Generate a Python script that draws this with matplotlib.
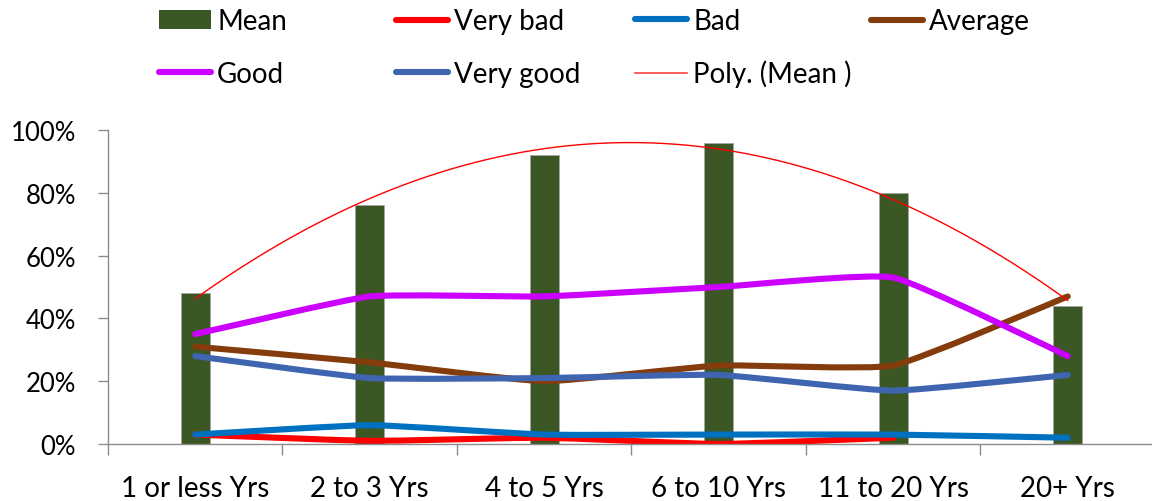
import numpy as np
import matplotlib
matplotlib.use("Agg")
import matplotlib.pyplot as plt
from matplotlib.path import Path
from matplotlib.patches import PathPatch, Patch
from matplotlib.lines import Line2D
from matplotlib.ticker import PercentFormatter

plt.rcParams['font.family'] = ['Lato', 'DejaVu Sans']

# ---- data ----
categories = ["1 or less Yrs", "2 to 3 Yrs", "4 to 5 Yrs", "6 to 10 Yrs", "11 to 20 Yrs", "20+ Yrs"]
mean = [48, 76, 92, 96, 80, 44]
very_bad = [3, 1, 2, 0, 2, np.nan]
bad = [3, 6, 3, 3, 3, 2]
average = [31, 26, 20, 25, 25, 47]
good = [35, 47, 47, 50, 53, 28]
very_good = [28, 21, 21, 22, 17, 22]

series = [
    ("Very bad", very_bad, "#FF0000"),
    ("Bad", bad, "#0070C0"),
    ("Average", average, "#843C0C"),
    ("Good", good, "#CC00FF"),
    ("Very good", very_good, "#3F65B0"),
]
bar_color = "#3A5724"
axis_gray = "#8C8C8C"

W, H = 1152, 502
fig = plt.figure(figsize=(W / 100, H / 100), dpi=100)
ax = fig.add_axes([108 / W, (H - 445) / H, 1047 / W, 314 / H])

x = np.arange(1, len(categories) + 1)


def smooth_path(xs, ys, k=0.07):
    """Cubic Bezier path through the points with gently rounded corners."""
    pts = np.array([(a, b) for a, b in zip(xs, ys) if not np.isnan(b)], dtype=float)
    n = len(pts)
    verts = [pts[0]]
    codes = [Path.MOVETO]
    for i in range(n - 1):
        p0 = pts[i - 1] if i > 0 else pts[i]
        p1 = pts[i]
        p2 = pts[i + 1]
        p3 = pts[i + 2] if i + 2 < n else pts[i + 1]
        c1 = p1 + (p2 - p0) * k
        c2 = p2 - (p3 - p1) * k
        verts += [c1, c2, p2]
        codes += [Path.CURVE4] * 3
    return Path(verts, codes)


# bars
ax.bar(x, np.array(mean) / 100, width=0.166, color=bar_color,
       edgecolor="#A6A6A6", linewidth=0.6, zorder=1)

# rating lines
handles = {}
for name, vals, col in series:
    v = np.array(vals, dtype=float) / 100
    patch = PathPatch(smooth_path(x, v), facecolor="none", edgecolor=col,
                      linewidth=4.4, capstyle="round", joinstyle="round", zorder=2)
    ax.add_patch(patch)
    handles[name] = Line2D([], [], color=col, linewidth=4.4, solid_capstyle="round")

# order-2 polynomial trendline of the mean
coef = np.polyfit(x, np.array(mean) / 100, 2)
xt = np.linspace(1, 6, 300)
ax.plot(xt, np.polyval(coef, xt), color="#FF0000", linewidth=1.0, zorder=3)
handles["Poly. (Mean )"] = Line2D([], [], color="#FF4040", linewidth=1.2)
handles["Mean"] = Patch(facecolor=bar_color, edgecolor="none")
handles[" "] = Line2D([], [], color="none")

# axes styling
ax.set_xlim(0.5, 6.5)
ax.set_ylim(0, 1.0)
ax.yaxis.set_major_formatter(PercentFormatter(1.0, decimals=0))
ax.set_yticks(np.arange(0, 1.01, 0.2))
for s in ("top", "right"):
    ax.spines[s].set_visible(False)
for s in ("left", "bottom"):
    ax.spines[s].set_color(axis_gray)
    ax.spines[s].set_linewidth(1.0)
ax.tick_params(axis="y", colors=axis_gray, length=7, width=1.0, pad=16,
               labelsize=18.5, labelcolor="black")
ax.set_xticks(np.arange(0.5, 6.6, 1.0))
ax.set_xticklabels([])
ax.tick_params(axis="x", which="major", colors=axis_gray, length=8, width=1.0)
ax.set_xticks(x, minor=True)
ax.set_xticklabels(categories, minor=True)
ax.tick_params(axis="x", which="minor", length=0, pad=22, labelsize=20,
               labelcolor="black")

# legend laid out in a fixed 4-column grid
leg_kw = dict(frameon=False, fontsize=20, handlelength=1.87, handletextpad=0.22,
              borderpad=0, borderaxespad=0, labelspacing=0.94, handleheight=0.7)
columns = [
    (159, ["Mean", "Good"]),
    (396, ["Very bad", "Very good"]),
    (635, ["Bad", "Poly. (Mean )"]),
    (871, ["Average", " "]),
]
for xpx, names in columns:
    lg = fig.legend([handles[n] for n in names], names, loc="center left",
                    bbox_to_anchor=(xpx / W, 1 - 48.5 / H), **leg_kw)
    lg.set_in_layout(False)

fig.savefig("out.png", dpi=100)
